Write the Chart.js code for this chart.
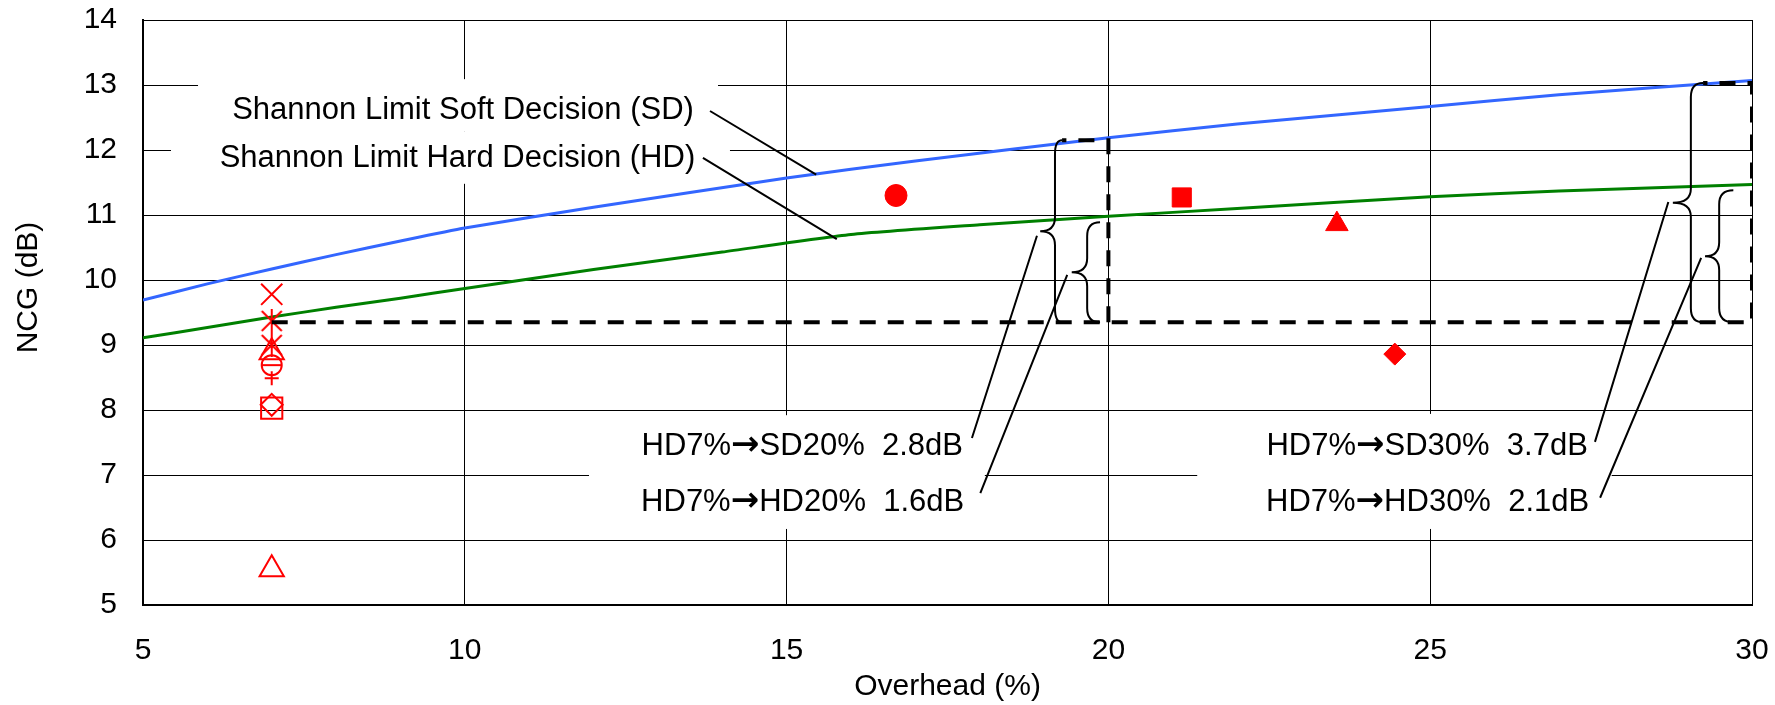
<!DOCTYPE html>
<html>
<head>
<meta charset="utf-8">
<script src="https://cdn.jsdelivr.net/npm/chart.js@4.4.1/dist/chart.umd.min.js"></script>
<style>html,body{margin:0;padding:0;background:#fff}canvas{display:block}</style>
</head>
<body>
<canvas id="chart" width="1775" height="705"></canvas>
<script>
// Shannon limit curves (overhead %, NCG dB)
const overheadSD = [5, 6, 7, 8, 9, 10, 12, 15, 17, 20, 22, 25, 27, 30];
const ncgSD = [9.69, 9.94, 10.17, 10.39, 10.6, 10.8, 11.12, 11.57, 11.83, 12.19, 12.4, 12.67, 12.85, 13.07];
const overheadHD = [5, 6, 7, 8, 9, 10, 12, 14, 16, 18, 20, 22, 25, 27, 30];
const ncgHD = [9.11, 9.27, 9.43, 9.58, 9.72, 9.87, 10.16, 10.43, 10.7, 10.85, 10.98, 11.1, 11.28, 11.37, 11.47];

// FEC codes: filled markers (SD codes) and open markers (HD 7% codes)
const codeOverheadFilled = [16.7, 21.14, 23.55, 24.45];
const codeNcgFilled = [11.3, 11.27, 10.86, 8.86];
const codeOverheadOpen = [7, 7, 7, 7, 7, 7, 7, 7, 7, 7];
const codeNcgOpen = [9.78, 9.37, 9.0, 8.89, 8.69, 8.69, 8.49, 8.03, 8.08, 5.55];

// dashed reference box (HD 7% level up to SD limits at 20% and 30%)
const refOverhead30 = [7, 30, 30, 29.24];
const refNcg30 = [9.35, 9.35, 13.03, 13.03];
const refOverhead20 = [20, 20, 19.28];
const refNcg20 = [9.35, 12.15, 12.15];

const xTicks = [5, 10, 15, 20, 25, 30];
const yTicks = [5, 6, 7, 8, 9, 10, 11, 12, 13, 14];

// annotation texts, anchored at their right end (data coords)
const labelTexts = ['Shannon Limit Soft Decision (SD)', 'Shannon Limit Hard Decision (HD)',
  'HD7%\u2192SD20%  2.8dB', 'HD7%\u2192HD20%  1.6dB', 'HD7%\u2192SD30%  3.7dB', 'HD7%\u2192HD30%  2.1dB'];
const labelAt = [[13.56, 12.65], [13.58, 11.91], [17.74, 7.47], [17.76, 6.62], [27.45, 7.48], [27.47, 6.62]];
const labelBoxes = [[5.855, 13.09, 13.934, 12.29], [5.435, 12.29, 14.12, 11.48], [11.93, 7.92, 18.08, 6.17], [21.38, 7.94, 27.82, 6.17]];
const leaders = [[13.81, 12.6, 15.46, 11.62], [13.7, 11.88, 15.78, 10.63], [18.89, 10.68, 17.88, 7.57],
  [19.36, 10.08, 18.01, 6.72], [28.7, 11.2, 27.56, 7.51], [29.21, 10.34, 27.64, 6.65]];
// braces: top, bottom, tip x, spine x, end x
const braces = [[12.15, 9.35, 18.94, 19.17, 19.28], [10.89, 9.35, 19.43, 19.67, 19.87],
  [13.03, 9.35, 28.77, 29.05, 29.24], [11.38, 9.35, 29.27, 29.49, 29.71]];

const RED = '#ff0000';
const FONT = '"Liberation Sans", Arial, sans-serif';
const TEXT_FONT = '31px ' + FONT;
const ARROW_FONT = 'bold 34px "DejaVu Sans", sans-serif';
Chart.defaults.font.family = FONT;
Chart.defaults.color = '#000';

const pts = (xs, ys) => xs.map((x, i) => ({x, y: ys[i]}));

function asterisk() {
  const c = document.createElement('canvas');
  c.width = 24; c.height = 26;
  const g = c.getContext('2d');
  g.strokeStyle = RED; g.lineWidth = 2;
  g.beginPath();
  g.moveTo(2, 3); g.lineTo(22, 23);
  g.moveTo(22, 3); g.lineTo(2, 23);
  g.moveTo(12, 1); g.lineTo(12, 25);
  g.stroke();
  return c;
}
const star = asterisk();

// right-aligned label, the arrow glyph set in a font that has a bigger arrow
function drawLabel(ctx, text, xr, yc) {
  const parts = text.split('\u2192');
  const runs = [];
  parts.forEach((p, i) => {
    if (i > 0) runs.push(['\u2192', ARROW_FONT]);
    runs.push([p, TEXT_FONT]);
  });
  let total = 0;
  runs.forEach(r => { ctx.font = r[1]; r.push(ctx.measureText(r[0]).width); total += r[2]; });
  let xx = xr - total;
  const base = yc + 11;
  ctx.textAlign = 'left';
  ctx.textBaseline = 'alphabetic';
  runs.forEach(r => { ctx.font = r[1]; ctx.fillText(r[0], xx, base); xx += r[2]; });
}

const annotations = {
  id: 'annotations',
  beforeDatasetsDraw(chart) {
    const {ctx, scales: {x, y}} = chart;
    ctx.save();
    ctx.fillStyle = '#fff';
    labelBoxes.forEach(b => {
      const l = x.getPixelForValue(b[0]), t = y.getPixelForValue(b[1]);
      ctx.fillRect(l, t, x.getPixelForValue(b[2]) - l, y.getPixelForValue(b[3]) - t);
    });
    ctx.fillStyle = '#000';
    labelTexts.forEach((t, i) => drawLabel(ctx, t, x.getPixelForValue(labelAt[i][0]), y.getPixelForValue(labelAt[i][1])));
    ctx.restore();
  },
  afterDatasetsDraw(chart) {
    const {ctx, scales: {x, y}} = chart;
    ctx.save();
    ctx.strokeStyle = '#000';
    ctx.lineWidth = 2;
    ctx.beginPath();
    leaders.forEach(s => {
      ctx.moveTo(x.getPixelForValue(s[0]), y.getPixelForValue(s[1]));
      ctx.lineTo(x.getPixelForValue(s[2]), y.getPixelForValue(s[3]));
    });
    ctx.stroke();
    braces.forEach(b => {
      const T = y.getPixelForValue(b[0]), B = y.getPixelForValue(b[1]), M = (T + B) / 2;
      const xt = x.getPixelForValue(b[2]), xs = x.getPixelForValue(b[3]), xe = x.getPixelForValue(b[4]);
      const r = Math.min(14, (B - T) / 6);
      ctx.beginPath();
      ctx.moveTo(xe, T);
      ctx.quadraticCurveTo(xs, T, xs, T + r);
      ctx.lineTo(xs, M - r);
      ctx.quadraticCurveTo(xs, M, xt, M);
      ctx.quadraticCurveTo(xs, M, xs, M + r);
      ctx.lineTo(xs, B - r);
      ctx.quadraticCurveTo(xs, B, xe, B);
      ctx.stroke();
    });
    ctx.restore();
  }
};

// keep the plot area where the reference has it: no extra room for label overflow
const noOverflow = s => { s.paddingTop = s.paddingBottom = s.paddingLeft = s.paddingRight = 0; };

new Chart(document.getElementById('chart'), {
  type: 'scatter',
  data: {
    datasets: [
      { data: pts(refOverhead30, refNcg30), showLine: true, borderColor: '#000', borderWidth: 4, borderDash: [16, 12], pointRadius: 0 },
      { data: pts(refOverhead20, refNcg20), showLine: true, borderColor: '#000', borderWidth: 4, borderDash: [16, 12], pointRadius: 0 },
      { data: pts(codeOverheadFilled, codeNcgFilled), pointStyle: ['circle', 'rect', 'triangle', 'rectRot'],
        pointRadius: [11, 13.5, 13, 11], backgroundColor: RED, borderColor: RED, borderWidth: 1 },
      { data: pts(codeOverheadOpen, codeNcgOpen),
        pointStyle: ['crossRot', star, star, 'triangle', 'circle', 'line', 'cross', 'rect', 'rectRot', 'triangle'],
        pointRadius: [15, 12, 12, 14, 10, 10, 7, 15, 11, 14], backgroundColor: 'rgba(0,0,0,0)', borderColor: RED, borderWidth: 2 },
      { data: pts(overheadSD, ncgSD), showLine: true, borderColor: '#3366ff', borderWidth: 3, pointRadius: 0, tension: 0.2 },
      { data: pts(overheadHD, ncgHD), showLine: true, borderColor: '#008000', borderWidth: 3, pointRadius: 0, tension: 0.2 }
    ]
  },
  options: {
    responsive: false,
    animation: false,
    devicePixelRatio: 1,
    layout: { padding: { left: 0, right: 23, top: 20, bottom: 0 } },
    plugins: { legend: { display: false }, tooltip: { enabled: false } },
    scales: {
      x: {
        type: 'linear', min: 5, max: 30,
        afterBuildTicks: s => { s.ticks = xTicks.map(v => ({value: v})); },
        afterFit: s => { s.height = 100; noOverflow(s); },
        grid: { color: '#000', lineWidth: 1, drawTicks: false },
        border: { color: '#000', width: 2 },
        ticks: { padding: 28, font: { size: 30 }, color: '#000' },
        title: { display: true, text: 'Overhead (%)', font: { size: 30 }, color: '#000', padding: { top: 0, bottom: 0 } }
      },
      y: {
        type: 'linear', min: 5, max: 14,
        afterBuildTicks: s => { s.ticks = yTicks.map(v => ({value: v})); },
        afterFit: s => { s.width = 143; noOverflow(s); },
        grid: { color: '#000', lineWidth: 1, drawTicks: false },
        border: { color: '#000', width: 2 },
        ticks: { padding: 26, font: { size: 30 }, color: '#000' },
        title: { display: true, text: '      NCG (dB)', font: { size: 30 }, color: '#000', padding: { top: 11, bottom: 0 } }
      }
    }
  },
  plugins: [annotations]
});
</script>
</body>
</html>
